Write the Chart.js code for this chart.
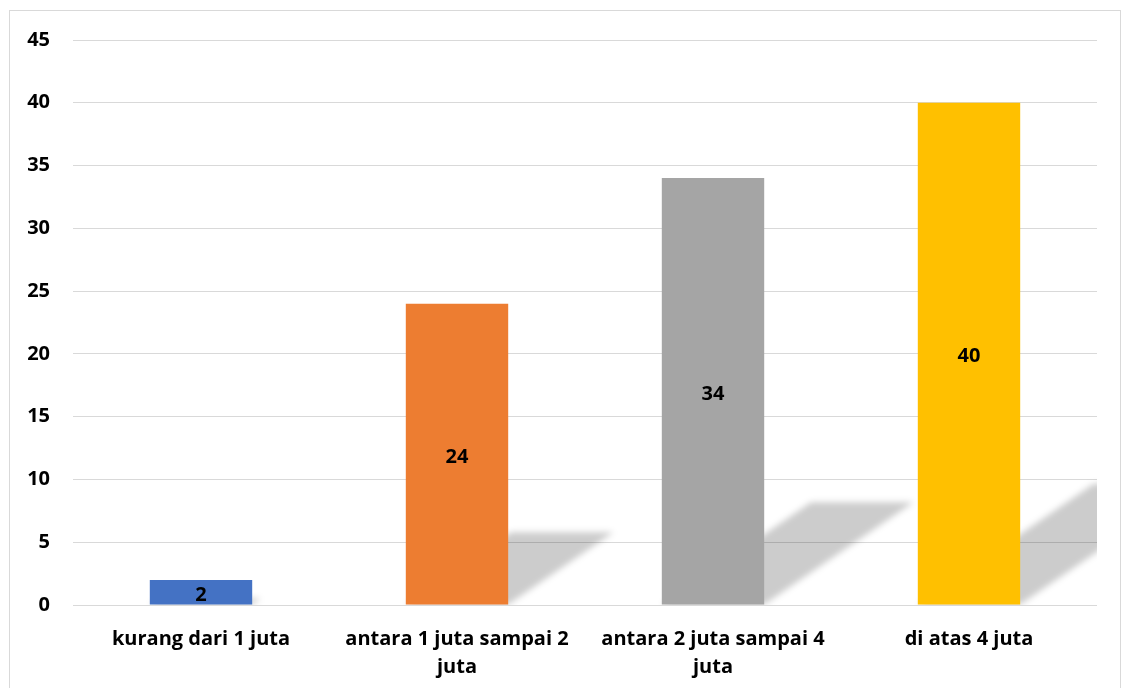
<!DOCTYPE html>
<html>
<head>
<meta charset="utf-8">
<script src="https://cdn.jsdelivr.net/npm/chart.js@4.4.1/dist/chart.umd.min.js"></script>
<style>
  html, body { margin: 0; padding: 0; background: #ffffff; overflow: hidden; }
  #wrap { position: relative; width: 1125px; height: 688px; }
  #frame { position: absolute; left: 9px; top: 10px; width: 1112px; height: 700px; border: 1px solid #d9d9d9; box-sizing: border-box; pointer-events: none; }
  canvas { position: absolute; left: 0; top: 0; }
</style>
</head>
<body>
<div id="wrap">
  <canvas id="c" width="1125" height="688"></canvas>
  <div id="frame"></div>
</div>
<script>
const categories = [
  ['kurang dari 1 juta'],
  ['antara 1 juta sampai 2', 'juta'],
  ['antara 2 juta sampai 4', 'juta'],
  ['di atas 4 juta']
];
const values = [2, 24, 34, 40];
const barColors = ['#4472C4', '#ED7D31', '#A5A5A5', '#FFC000'];
const yMin = 0, yMax = 45, yStep = 5;

const FONT = '"Open Sans", sans-serif';

const shadowPlugin = {
  id: 'perspShadow',
  beforeDatasetsDraw(chart) {
    const ctx = chart.ctx;
    const area = chart.chartArea;
    const meta = chart.getDatasetMeta(0);
    ctx.save();
    ctx.beginPath();
    ctx.rect(area.left, area.top, area.right - area.left, area.bottom - area.top);
    ctx.clip();
    ctx.filter = 'blur(3px)';
    ctx.fillStyle = 'rgba(0,0,0,0.2)';
    meta.data.forEach(bar => {
      const p = bar.getProps(['x', 'y', 'base', 'width'], true);
      const h = p.base - p.y;
      const dx = 0.35 * h, dy = 0.24 * h;
      const l = p.x - p.width / 2, r = p.x + p.width / 2;
      ctx.beginPath();
      ctx.moveTo(l, p.base);
      ctx.lineTo(r, p.base);
      ctx.lineTo(r + dx, p.base - dy);
      ctx.lineTo(l + dx, p.base - dy);
      ctx.closePath();
      ctx.fill();
    });
    ctx.restore();
  }
};

const labelPlugin = {
  id: 'barLabels',
  afterDatasetsDraw(chart) {
    const ctx = chart.ctx;
    const meta = chart.getDatasetMeta(0);
    ctx.save();
    ctx.font = 'bold 20px ' + FONT;
    ctx.fillStyle = '#000000';
    ctx.textAlign = 'center';
    ctx.textBaseline = 'middle';
    meta.data.forEach((bar, i) => {
      const p = bar.getProps(['x', 'y', 'base'], true);
      ctx.fillText(String(chart.data.datasets[0].data[i]), p.x, (p.y + p.base) / 2 + 3);
    });
    ctx.restore();
  }
};

new Chart(document.getElementById('c'), {
  type: 'bar',
  data: {
    labels: categories,
    datasets: [{
      data: values,
      backgroundColor: barColors,
      borderWidth: 0,
      categoryPercentage: 1,
      barPercentage: 0.4
    }]
  },
  options: {
    responsive: false,
    animation: false,
    devicePixelRatio: 1,
    layout: { padding: { left: 0, right: 28, top: 40, bottom: 0 } },
    plugins: { legend: { display: false }, tooltip: { enabled: false } },
    scales: {
      x: {
        grid: { display: false },
        border: { display: false },
        ticks: {
          color: '#000000',
          font: { family: FONT, size: 20, weight: 'bold', lineHeight: 1.4 },
          padding: 12,
          maxRotation: 0,
          autoSkip: false
        },
        afterFit(scale) { scale.height = 83; }
      },
      y: {
        min: yMin,
        max: yMax,
        grid: { color: '#d9d9d9', lineWidth: 1, drawTicks: false },
        border: { display: false },
        ticks: {
          stepSize: yStep,
          color: '#000000',
          font: { family: FONT, size: 20, weight: 'bold' },
          padding: 23
        },
        afterFit(scale) { scale.width = 73; }
      }
    }
  },
  plugins: [shadowPlugin, labelPlugin]
});
</script>
</body>
</html>
